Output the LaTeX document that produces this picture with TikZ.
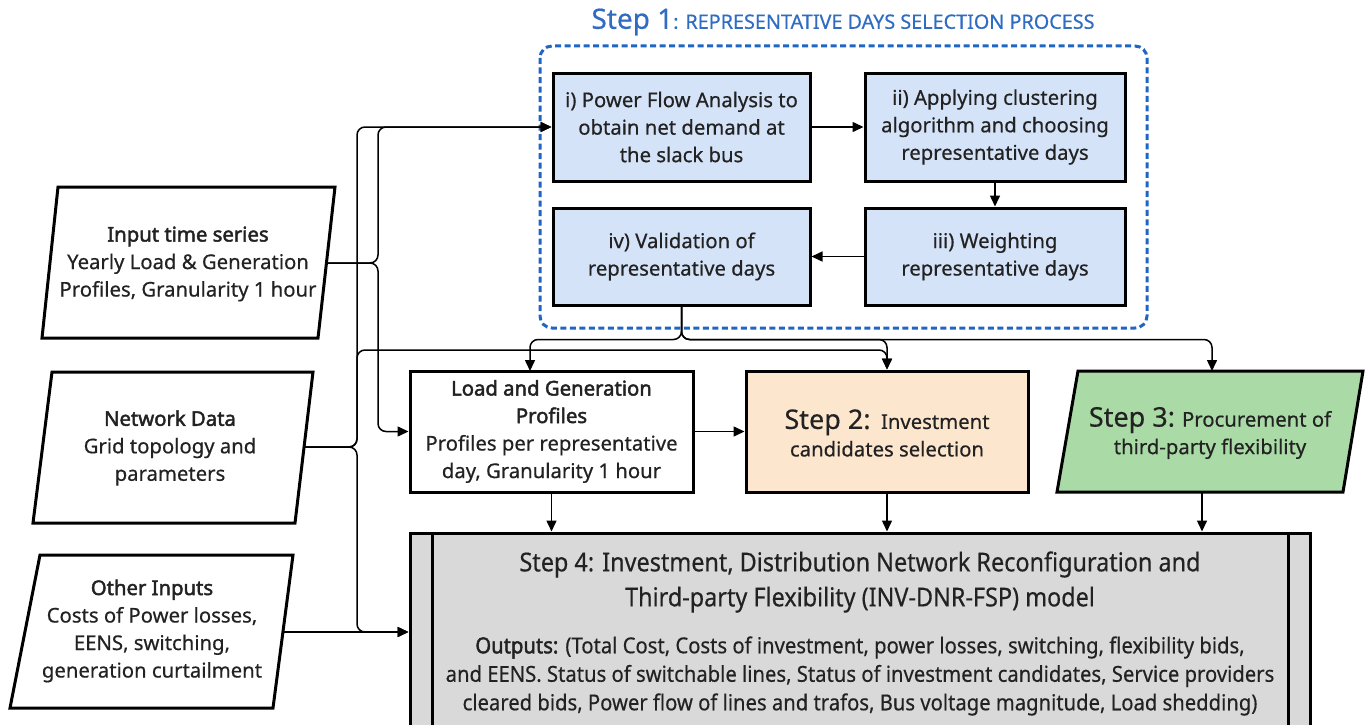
\documentclass[tikz,border=0pt]{standalone}
\usepackage{fontspec}
\setmainfont{Noto Sans}[UprightFeatures={FakeBold=0.5}, BoldFont={Noto Sans}, BoldFeatures={FakeBold=2.2}]
\newfontfamily\condfont{Noto Sans}[FakeStretch=0.9, UprightFeatures={FakeBold=0.4}, BoldFont={Noto Sans}, BoldFeatures={FakeStretch=0.9,FakeBold=2}]
\newfontfamily\condfontb{Noto Sans}[FakeStretch=0.92, UprightFeatures={FakeBold=0.4}, BoldFont={Noto Sans}, BoldFeatures={FakeStretch=0.92,FakeBold=2}]
\usetikzlibrary{arrows.meta,calc}
\definecolor{bluefill}{HTML}{D5E3F8}
\definecolor{peach}{HTML}{FDE6CE}
\definecolor{greenfill}{HTML}{AADBA6}
\definecolor{grayfill}{HTML}{D9D9D9}
\definecolor{stepblue}{HTML}{2F6CC2}
\definecolor{dashblue}{HTML}{1F66C4}
\definecolor{txt}{HTML}{222222}
\begin{document}
\begin{tikzpicture}[x=1pt,y=-1pt,
  box/.style={draw=black, line width=3pt, align=center, inner sep=0pt, text=txt,
    font=\fontsize{20.3}{27.5}\selectfont},
  bluebox/.style={box, fill=bluefill},
  lbl/.style={align=center, inner sep=0pt, text=txt, font=\fontsize{20.3}{27.5}\selectfont},
  conn/.style={line width=1.5pt, rounded corners=8pt, -{Triangle[length=11pt,width=10pt]}},
  para/.style={draw=black, line width=3pt, line join=miter}
]
\useasboundingbox (0,0) rectangle (1370,725);

% Step 1 title and dashed frame
\node[inner sep=0pt, text=stepblue] (t1) at (843,22)
  {\fontsize{28}{30}\selectfont Step 1\fontsize{19.8}{22}\selectfont: REPRESENTATIVE DAYS SELECTION PROCESS};
\draw[dashblue, line width=3pt, dash pattern=on 6pt off 3.5pt, rounded corners=12pt] (540,46) rectangle (1147,328);

% blue boxes
\node[bluebox, minimum width=257pt, minimum height=108pt] (pf) at (681.5,127)
  {i) Power Flow Analysis to\\obtain net demand at\\the slack bus};
\node[bluebox, minimum width=260pt, minimum height=108pt] (cl) at (995,127)
  {ii) Applying clustering\\algorithm and choosing\\representative days};
\node[bluebox, minimum width=260pt, minimum height=97pt] (we) at (995,256.5)
  {iii) Weighting\\representative days};
\node[bluebox, minimum width=257pt, minimum height=97pt] (va) at (681.5,256.5)
  {iv) Validation of\\representative days};

% input parallelograms
\draw[para] (58,187) -- (335,187) -- (318,338) -- (42,338) -- cycle;
\node[lbl] (in) at (188,264) {\textbf{Input time series}\\Yearly Load \& Generation\\Profiles, Granularity 1 hour};
\coordinate (inE) at (327,263);

\draw[para] (52,372) -- (313,372) -- (295,523) -- (33,523) -- cycle;
\node[lbl] (nd) at (170,448) {\textbf{Network Data}\\Grid topology and\\parameters};
\coordinate (ndE) at (304,447);

\draw[para] (40,555) -- (293,555) -- (273,708) -- (10,708) -- cycle;
\node[lbl] (ot) at (152,631) {\textbf{Other Inputs}\\Costs of Power losses,\\EENS, switching,\\generation curtailment};
\coordinate (otE) at (283,632);

% middle row
\node[box, fill=white, minimum width=283pt, minimum height=121pt] (lg) at (551.5,431.5)
  {\textbf{Load and Generation}\\\textbf{Profiles}\\Profiles per representative\\day, Granularity 1 hour};
\node[box, fill=peach, minimum width=282pt, minimum height=121pt] (s2) at (887,431.5) {};
\node[lbl] (s2t) at (887,433)
  {{\fontsize{27}{30}\selectfont Step 2:}\, Investment\\candidates selection};
\draw[para, fill=greenfill] (1078,371) -- (1363,371) -- (1343,492) -- (1057,492) -- cycle;
\node[lbl] (s3) at (1210,433) {{\fontsize{27}{30}\selectfont Step 3:} Procurement of\\third-party flexibility};
\coordinate (s3in) at (1212,371);
\coordinate (s3out) at (1202,492);
\coordinate (lgin) at (530,371);

% step 4
\node[box, fill=grayfill, minimum width=900pt, minimum height=198pt] (s4) at (860,632) {};
\draw[line width=3pt] (432,533) -- (432,731);
\draw[line width=3pt] (1288,533) -- (1288,731);
\node[lbl, font=\condfont\fontsize{26}{35}\selectfont] (s4t) at (860,582)
  {Step 4: Investment, Distribution Network Reconfiguration and\\Third-party Flexibility (INV-DNR-FSP) model};
\node[lbl, font=\condfontb\fontsize{22}{28.5}\selectfont] (s4o) at (860,676)
  {\textbf{Outputs:} (Total Cost, Costs of investment, power losses, switching, flexibility bids,\\and EENS. Status of switchable lines, Status of investment candidates, Service providers\\cleared bids, Power flow of lines and trafos, Bus voltage magnitude, Load shedding)};

% connectors inside step 1
\draw[conn] (pf.east) -- (cl.west);
\draw[conn] (cl.south) -- (we.north);
\draw[conn] (we.west) -- (va.east);

% input connectors
\draw[conn] (inE) -| (378,127) -- (pf.west);
\draw[conn] (inE) -| (378,431.5) -- (lg.west);
\draw[conn] (ndE) -| (357,127) -- (pf.west);
\draw[conn] (ndE) -| (357,350) -| (s2.north);
\draw[conn] (ndE) -| (357,632) -- (s4.west);
\draw[conn] (otE) -- (s4.west);

% validation outputs
\draw[conn] (va.south) -- ++(0,33) -| (lgin);
\draw[conn] (va.south) -- ++(0,33) -| (s2.north);
\draw[conn] (va.south) -- ++(0,33) -| (s3in);

% middle row connectors
\draw[conn] (lg.east) -- (s2.west);
\draw[conn] (lg.south) -- (lg.south |- s4.north);
\draw[conn] (s2.south) -- (s4.north -| s2.south);
\draw[conn] (s3out) -- (s4.north -| s3out);
\end{tikzpicture}
\end{document}
